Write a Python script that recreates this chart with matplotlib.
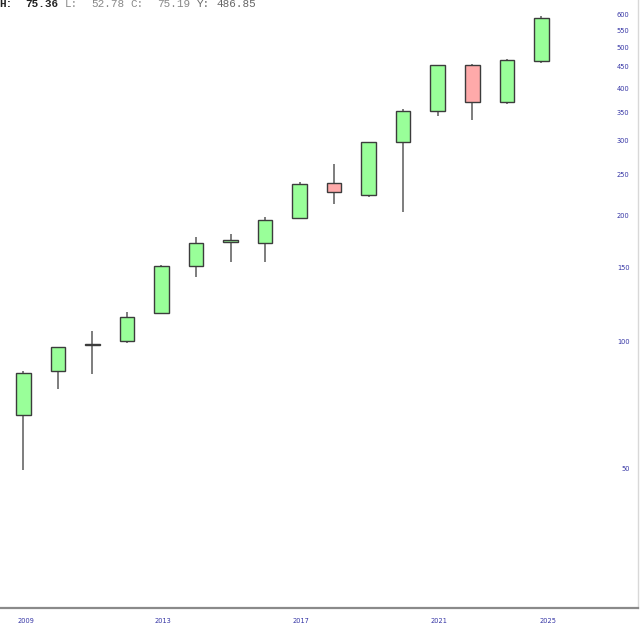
import matplotlib
matplotlib.use("Agg")
import matplotlib.pyplot as plt
from matplotlib.ticker import FixedLocator, FixedFormatter, NullLocator

# yearly candles (log scale)
years = [2009, 2010, 2011, 2012, 2013, 2014, 2015, 2016,
         2017, 2018, 2019, 2020, 2021, 2022, 2023, 2024]
opens = [67.2, 85.4, 98.3, 101.0, 117.3, 151.7, 173.2, 172.0,
         197.2, 239.1, 223.6, 299.7, 353.9, 455.8, 373.0, 465.1]
highs = [85.7, 97.7, 106.5, 118.1, 152.7, 177.7, 180.9, 198.9,
         240.0, 265.3, 299.7, 357.4, 456.5, 458.2, 470.2, 596.7]
lows = [49.8, 77.5, 84.3, 99.9, 116.9, 143.3, 155.0, 155.3,
        196.1, 212.8, 221.8, 203.7, 344.9, 336.9, 367.7, 460.0]
closes = [84.8, 97.4, 99.3, 115.1, 152.2, 172.5, 174.8, 195.6,
          238.2, 227.3, 298.7, 354.4, 455.0, 371.7, 469.2, 590.2]

y_ticks = [50, 100, 150, 200, 250, 300, 350, 400, 450, 500, 550, 600]
x_labels = ["2009", "2013", "2017", "2021", "2025"]
x_label_pos = [2009.07, 2013.04, 2017.04, 2021.04, 2024.19]

up_color = "#99ff99"
down_color = "#ffaaaa"
edge_color = "#3c3c3c"
wick_color = "#5a5a5a"
tick_color = "#3535a5"

fig = plt.figure(figsize=(6.4, 6.29), dpi=100)
ax = fig.add_axes([0.0, 0.0334, 0.9964, 0.9666])
ax.set_yscale("log")

for x, o, h, l, c in zip(years, opens, highs, lows, closes):
    ax.vlines(x, l, h, color=wick_color, lw=1.1, zorder=1)
    color = up_color if c >= o else down_color
    lo, hi = min(o, c), max(o, c)
    ax.bar(x, hi - lo, bottom=lo, width=0.42, color=color,
           edgecolor=edge_color, linewidth=1.0, zorder=2)

ax.set_xlim(2008.325, 2026.79)
ax.set_ylim(23.4, 650)

# y labels sit inside the plot on the right
ax.yaxis.set_major_locator(NullLocator())
ax.yaxis.set_minor_locator(NullLocator())
for v in y_ticks:
    ax.text(0.9874, v, str(v), transform=ax.get_yaxis_transform(),
            ha="right", va="center", fontsize=4.8, color=tick_color,
            family="DejaVu Sans")

ax.xaxis.set_major_locator(FixedLocator(x_label_pos))
ax.xaxis.set_major_formatter(FixedFormatter(x_labels))
ax.tick_params(axis="x", length=0, pad=7.5, labelsize=4.8,
               labelcolor=tick_color)

for s in ["left", "top"]:
    ax.spines[s].set_visible(False)
ax.spines["bottom"].set_color("#8a8a8a")
ax.spines["bottom"].set_linewidth(1.6)
ax.spines["right"].set_color("#d8d8d8")
ax.spines["right"].set_linewidth(1.0)

# header readout, monospaced: position by character column
char_w = 6.58
header = [("H:", 0, "bold", "#222222"),
          ("75.36", 4, "bold", "#222222"),
          ("L:", 10, "normal", "#888888"),
          ("52.78", 14, "normal", "#888888"),
          ("C:", 20, "normal", "#888888"),
          ("75.19", 24, "normal", "#888888"),
          ("Y:", 30, "normal", "#666666"),
          ("486.85", 33, "normal", "#666666")]
for txt, col_idx, wt, col in header:
    fig.text((col_idx * char_w - 1) / 640, 1 - 4.3 / 629, txt, ha="left",
             va="center", fontsize=7.9, fontweight=wt, color=col,
             family="Liberation Mono")

fig.savefig("out.png", dpi=100)
